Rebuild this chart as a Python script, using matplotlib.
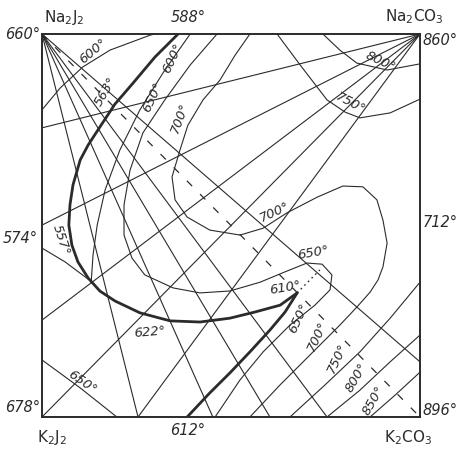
import matplotlib
matplotlib.use("Agg")
import matplotlib.pyplot as plt

# composition square: x = % CO3 (left J2 -> right CO3), y = % Na2 (bottom K2 -> top Na2)

# boundary curves (bold)
bold_a_x = [36.0, 29.9, 24.1, 19.3, 15.3, 12.2, 10.1, 8.2, 7.4, 7.1, 7.9, 9.5, 12.2, 15.3, 19.3, 25.9, 33.9, 41.8, 49.7, 56.3, 63.0, 67.5]
bold_a_y = [100, 94.0, 87.2, 81.7, 75.7, 71.0, 67.1, 60.6, 55.4, 50.1, 44.9, 40.5, 36.3, 32.9, 30.3, 27.2, 25.1, 24.8, 25.8, 27.4, 29.2, 32.4]
bold_b_x = [38.4, 44.4, 49.7, 55.0, 60.3, 64.3, 67.5]
bold_b_y = [0, 6.3, 11.5, 17.0, 22.7, 27.4, 32.4]
dots_x = [67.5, 73.5]
dots_y = [32.4, 38.4]

# isotherms
iso_600a_x = [0, 4.8, 10.8, 18.0, 28.6, 29.9]
iso_600a_y = [80.2, 85.9, 91.4, 95.8, 99.7, 100]
iso_600b_x = [39.2, 32.5, 25.9, 20.6, 16.7, 14.6, 13.5, 13.0]
iso_600b_y = [100, 90.6, 80.2, 69.7, 59.3, 50.1, 42.3, 35.0]
iso_600c_x = [0, 6.1, 12.2]
iso_600c_y = [44.1, 40.5, 36.0]
iso_650_x = [46.3, 39.2, 32.5, 26.7, 23.3, 21.7, 21.7, 23.8, 27.2, 34.7, 41.8, 49.7, 57.7, 64.3, 70.1, 74.1, 76.7, 76.2, 72.2, 65.6, 58.5, 52.4, 45.8]
iso_650_y = [100, 91.9, 82.8, 74.2, 64.5, 55.4, 47.5, 41.5, 37.1, 33.7, 32.4, 32.9, 35.2, 37.9, 40.2, 39.9, 37.1, 33.2, 29.2, 24.0, 17.0, 9.7, 0]
iso_650k_x = [0, 10.1, 19.8]
iso_650k_y = [14.9, 7.6, 0]
iso_700_x = [55.0, 51.1, 47.1, 42.6, 38.6, 36.5, 34.4, 35.2, 38.4, 44.4, 52.4, 58.5, 64.8, 72.8, 79.6, 84.9, 88.6, 90.2, 91.3, 90.2, 88.9, 86.8, 83.3, 78.8, 70.9, 63.0, 55.0]
iso_700_y = [100, 94.5, 88.0, 82.8, 76.2, 69.7, 62.7, 56.7, 52.2, 48.8, 47.5, 49.3, 53.3, 57.4, 60.3, 60.1, 56.7, 51.4, 45.4, 39.2, 35.8, 32.6, 28.7, 24.0, 16.2, 8.4, 0]
iso_750u_x = [62.2, 68.3, 75.4, 80.2, 84.1, 92.1, 100]
iso_750u_y = [100, 91.9, 82.8, 79.6, 78.1, 79.4, 83.0]
iso_800u_x = [74.3, 78.8, 83.3, 91.3, 100]
iso_800u_y = [100, 95.8, 92.4, 90.6, 92.2]
iso_750l_x = [65.6, 74.9, 84.1, 92.1, 100]
iso_750l_y = [0, 8.4, 17.0, 25.8, 35.2]
iso_800l_x = [75.4, 84.1, 92.1, 100]
iso_800l_y = [0, 7.0, 14.4, 21.4]
iso_850l_x = [86.8, 93.4, 100]
iso_850l_y = [0, 5.7, 11.7]

# straight sections from the Na2J2 and Na2CO3 corners
fan_nai_x = [25.4, 45.2, 60.3, 75.4, 100]
fan_nai_y = [0, 0, 0, 0, 14.4]
fan_nac_x = [0, 0, 0, 0, 25.4]
fan_nac_y = [75.5, 50.1, 25.3, 0, 0]

# temperature labels: (text, x, y, rotation)
inner_labels = [
    ("600°", 13.5, 95.5, 40), ("563°", 16.9, 84.9, 60), ("600°", 34.7, 93.7, 65),
    ("650°", 29.4, 83.6, 65), ("700°", 36.5, 78.1, 70), ("800°", 89.4, 92.7, -25),
    ("750°", 81.5, 82.0, -28), ("700°", 61.6, 53.5, 25), ("650°", 71.7, 42.8, 10),
    ("610°", 64.3, 33.7, 10), ("622°", 28.6, 22.2, 5), ("557°", 5.0, 46.2, -72),
    ("650°", 10.6, 9.1, -35), ("650°", 68.0, 25.8, 65), ("700°", 72.8, 21.1, 65),
    ("750°", 78.0, 15.4, 65), ("800°", 83.3, 10.2, 60), ("850°", 87.6, 4.4, 60),
]

col = "#2b2b2b"
fig = plt.figure(figsize=(4.6, 4.49), dpi=100)
ax = fig.add_axes([42 / 460, 32 / 449, 378 / 460, 383 / 449])
ax.set_xlim(0, 100)
ax.set_ylim(0, 100)
ax.set_xticks([])
ax.set_yticks([])
for s in ax.spines.values():
    s.set_linewidth(1.4)
    s.set_color(col)

thin = dict(color=col, lw=0.8, solid_joinstyle="round")
for x, y in zip(fan_nai_x, fan_nai_y):
    ax.plot([0, x], [100, y], **thin)
for x, y in zip(fan_nac_x, fan_nac_y):
    ax.plot([100, x], [100, y], **thin)

for xs, ys in [(iso_600a_x, iso_600a_y), (iso_600b_x, iso_600b_y), (iso_600c_x, iso_600c_y),
               (iso_650_x, iso_650_y), (iso_650k_x, iso_650k_y), (iso_700_x, iso_700_y),
               (iso_750u_x, iso_750u_y), (iso_800u_x, iso_800u_y), (iso_750l_x, iso_750l_y),
               (iso_800l_x, iso_800l_y), (iso_850l_x, iso_850l_y)]:
    ax.plot(xs, ys, **thin)

# stable diagonal
ax.plot([0, 100], [100, 0], color=col, lw=0.9, ls=(0, (6, 9)))
ax.plot(dots_x, dots_y, color=col, lw=1.0, ls=(0, (1.2, 2.5)))

ax.plot(bold_a_x, bold_a_y, color=col, lw=2.0, solid_capstyle="round", solid_joinstyle="round")
ax.plot(bold_b_x, bold_b_y, color=col, lw=2.0, solid_capstyle="round", solid_joinstyle="round")

for t, x, y, r in inner_labels:
    ax.text(x, y, t, rotation=r, ha="center", va="center", fontsize=9.5,
            style="italic", color=col, rotation_mode="anchor")

# corner and edge labels
kw = dict(fontsize=10.5, color=col, clip_on=False)
ax.text(5.8, 104.4, r"Na$_2$J$_2$", ha="center", va="center", fontsize=11, color=col, clip_on=False)
ax.text(98.4, 104.4, r"Na$_2$CO$_3$", ha="center", va="center", fontsize=11, color=col, clip_on=False)
ax.text(2.6, -5.4, r"K$_2$J$_2$", ha="center", va="center", fontsize=11, color=col, clip_on=False)
ax.text(96.8, -5.4, r"K$_2$CO$_3$", ha="center", va="center", fontsize=11, color=col, clip_on=False)
ax.text(38.6, 104.4, "588°", ha="center", va="center", style="italic", **kw)
ax.text(38.6, -3.4, "612°", ha="center", va="center", style="italic", **kw)
ax.text(-0.5, 100, "660°", ha="right", va="center", style="italic", **kw)
ax.text(-1.0, 46.7, "574°", ha="right", va="center", style="italic", **kw)
ax.text(-0.5, 2.6, "678°", ha="right", va="center", style="italic", **kw)
ax.text(100.6, 98.4, "860°", ha="left", va="center", style="italic", **kw)
ax.text(100.6, 50.7, "712°", ha="left", va="center", style="italic", **kw)
ax.text(100.6, 1.8, "896°", ha="left", va="center", style="italic", **kw)

fig.savefig("out.png", dpi=100, facecolor="white")
